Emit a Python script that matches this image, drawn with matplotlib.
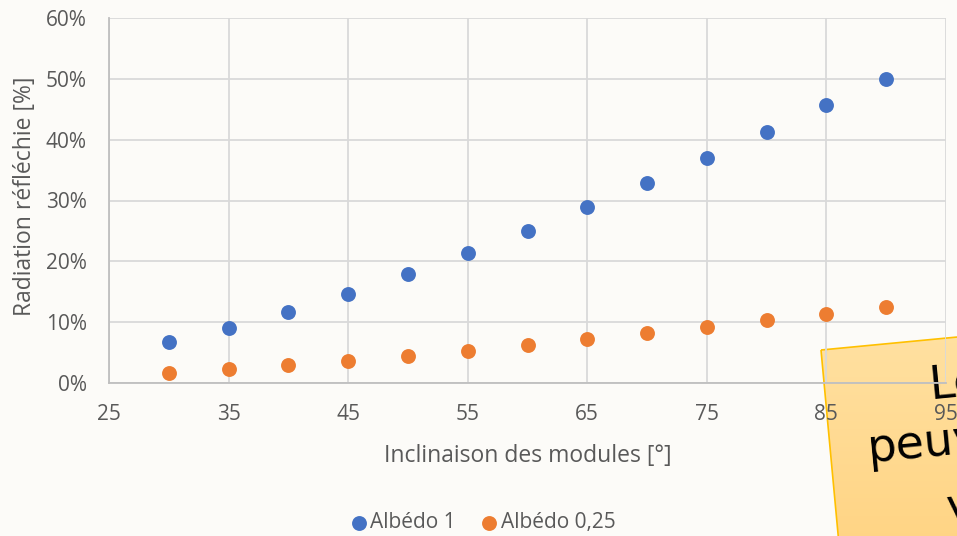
import matplotlib
matplotlib.use("Agg")
import matplotlib.pyplot as plt
import numpy as np
from matplotlib.patches import Polygon

# Data
inclinaison = [30, 35, 40, 45, 50, 55, 60, 65, 70, 75, 80, 85, 90]
albedo_1 = [6.7, 9.0, 11.7, 14.6, 17.9, 21.3, 25.0, 28.9, 32.9, 37.0, 41.3, 45.7, 50.0]
albedo_025 = [1.6, 2.3, 2.9, 3.6, 4.4, 5.3, 6.2, 7.2, 8.2, 9.2, 10.3, 11.4, 12.5]
series_labels = ["Albédo 1", "Albédo 0,25"]
x_ticks = [25, 35, 45, 55, 65, 75, 85, 95]
y_ticks = [0, 10, 20, 30, 40, 50, 60]

plt.rcParams['font.family'] = ['Open Sans', 'DejaVu Sans']
TXT = '#595959'
BG = '#fcfbf8'
GRID = '#d9d9d9'
BLUE = '#4472c4'
ORANGE = '#ed7d31'

W, H = 957, 536
fig = plt.figure(figsize=(W / 100, H / 100), dpi=100, facecolor=BG)

# Sticky note behind the chart (pixel coordinates)
note_ax = fig.add_axes([0, 0, 1, 1], zorder=0)
note_ax.set_xlim(0, W)
note_ax.set_ylim(H, 0)
note_ax.axis('off')
corners = np.array([[821, 350], [1010, 332], [1030, 620], [846, 620]])
poly = Polygon(corners, closed=True, facecolor='none', edgecolor='#ffc000', lw=1.2, zorder=2)
note_ax.add_patch(poly)
grad = np.linspace(0, 1, 256).reshape(-1, 1)
c_top = np.array([255, 225, 162]) / 255
c_bot = np.array([255, 208, 122]) / 255
img = c_top + (c_bot - c_top) * grad[..., None]
im = note_ax.imshow(img, extent=[815, 1040, 620, 325], aspect='auto', zorder=1)
im.set_clip_path(poly)
rot = 5.5
note_ax.text(929, 386, "Le", fontsize=33, family='DejaVu Sans', color='black',
             rotation=rot, ha='left', va='center', rotation_mode='anchor', zorder=3)
note_ax.text(868, 450, "peuv", fontsize=33, family='DejaVu Sans', color='black',
             rotation=rot, ha='left', va='center', rotation_mode='anchor', zorder=3)
note_ax.text(946, 510, "v", fontsize=33, family='DejaVu Sans', color='black',
             rotation=rot, ha='left', va='center', rotation_mode='anchor', zorder=3)

# Main chart
ax = fig.add_axes([109 / W, 1 - 383 / H, (946 - 109) / W, (383 - 18) / H], zorder=1)
ax.set_facecolor('none')
ax.scatter(inclinaison, albedo_1, s=115, color=BLUE, label=series_labels[0], zorder=3, linewidths=0)
ax.scatter(inclinaison, albedo_025, s=115, color=ORANGE, label=series_labels[1], zorder=3, linewidths=0)

ax.set_xlim(25, 95)
ax.set_ylim(0, 60)
ax.set_xticks(x_ticks)
ax.set_yticks(y_ticks)
ax.set_yticklabels([f"{v}%" for v in y_ticks])
ax.grid(True, color=GRID, lw=1.3)
ax.set_axisbelow(True)
for side in ['top', 'right']:
    ax.spines[side].set_visible(False)
for side in ['left', 'bottom']:
    ax.spines[side].set_color('#bfbfbf')
    ax.spines[side].set_linewidth(1.3)
ax.tick_params(length=0, labelsize=15, labelcolor=TXT)
ax.tick_params(axis='y', pad=16)
ax.tick_params(axis='x', pad=15)

ax.set_xlabel("Inclinaison des modules [°]", fontsize=16.5, color=TXT, labelpad=14)
ax.set_ylabel("Radiation réfléchie [%]", fontsize=16.5, color=TXT)
ax.yaxis.set_label_coords(-0.086, 0.512)

fig.legend(loc='lower center', bbox_to_anchor=(0.498, -0.03), ncol=2, frameon=False,
           fontsize=15, labelcolor=TXT, handletextpad=-0.45, columnspacing=0.6,
           markerscale=1.0)

fig.savefig("out.png", dpi=100, facecolor=BG)
